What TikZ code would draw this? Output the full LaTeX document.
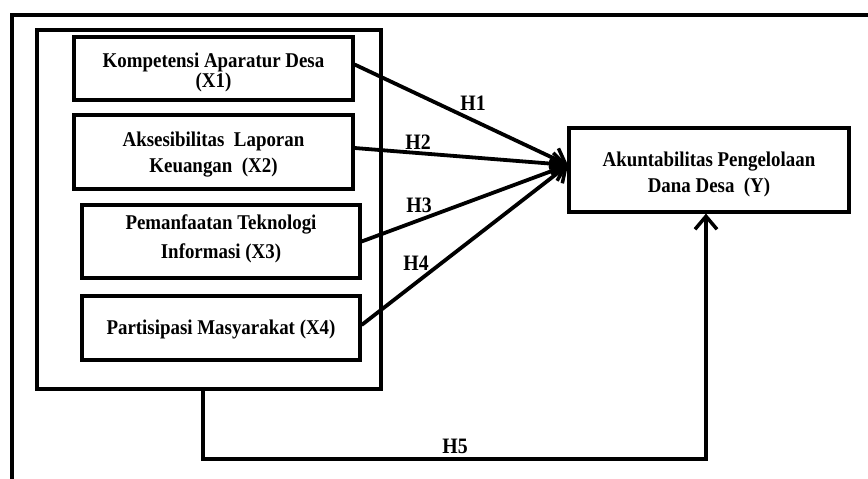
\documentclass[tikz,border=0pt]{standalone}
\usepackage{fontspec}
\setmainfont{Liberation Serif}
\newfontfamily\labfont[FakeStretch=0.9]{Liberation Serif}
\usetikzlibrary{arrows.meta}
\begin{document}
\begin{tikzpicture}[x=1pt,y=-1pt,
  varbox/.style={draw,line width=3.2pt,inner sep=0pt},
  vartext/.style={inner sep=0pt,align=center},
  hyp/.style={line width=3.8pt,-{Straight Barb[length=13pt,width=22pt,line width=3.5pt]}},
  hlab/.style={font=\labfont\fontsize{22}{24}\selectfont\bfseries,inner sep=0pt}]
\useasboundingbox (0,0) rectangle (868,479);
\fill[white] (0,0) rectangle (868,479);
% outer frame
\draw[line width=3.2pt] (12,481) -- (12,15) -- (870,15);
% inner group box
\node[draw,line width=3.2pt,minimum width=344pt,minimum height=359pt,inner sep=0pt] (grp) at (209,209.5) {};
% variable boxes
\node[varbox,minimum width=279pt,minimum height=63pt] (x1) at (213.5,68.5) {};
\node[varbox,minimum width=279pt,minimum height=74pt] (x2) at (213.5,152) {};
\node[varbox,minimum width=278pt,minimum height=73pt] (x3) at (221,241.5) {};
\node[varbox,minimum width=278pt,minimum height=64pt] (x4) at (221,328) {};
\node[varbox,minimum width=280pt,minimum height=84pt] (y) at (709,170) {};
% box texts
\node[vartext,font=\labfont\fontsize{21}{20}\selectfont\bfseries] (x1t) at (213.5,72.5) {Kompetensi Aparatur Desa\\(X1)};
\node[vartext,font=\labfont\fontsize{21}{26}\selectfont\bfseries] (x2t) at (213.5,154.5) {Aksesibilitas~~Laporan\\Keuangan~~(X2)};
\node[vartext,font=\labfont\fontsize{21}{29}\selectfont\bfseries] (x3t) at (221,239) {Pemanfaatan Teknologi\\Informasi (X3)};
\node[vartext,font=\labfont\fontsize{21}{26}\selectfont\bfseries] (x4t) at (221,329.5) {Partisipasi Masyarakat (X4)};
\node[vartext,font=\labfont\fontsize{21}{26}\selectfont\bfseries] (yt) at (709,174) {Akuntabilitas Pengelolaan\\Dana Desa~~(Y)};
\coordinate (tip) at (568,165);
% hypotheses arrows
\draw[hyp] ([yshift=4pt]x1.east) -- (tip);
\draw[hyp] ([yshift=4pt]x2.east) -- (tip);
\draw[hyp] (x3.east) -- (tip);
\draw[hyp] ([yshift=3pt]x4.east) -- (tip);
\coordinate (b2) at (203,459);
\coordinate (b3) at (706,459);
\draw[hyp] (grp.south -| b2) -- (b2) -- (b3) -- (y.south -| b3);
% labels
\node[hlab] (h1) at (473,103) {H1};
\node[hlab] (h2) at (418,142) {H2};
\node[hlab] (h3) at (419,205) {H3};
\node[hlab] (h4) at (416,263) {H4};
\node[hlab] (h5) at (455,446) {H5};
\end{tikzpicture}
\end{document}
